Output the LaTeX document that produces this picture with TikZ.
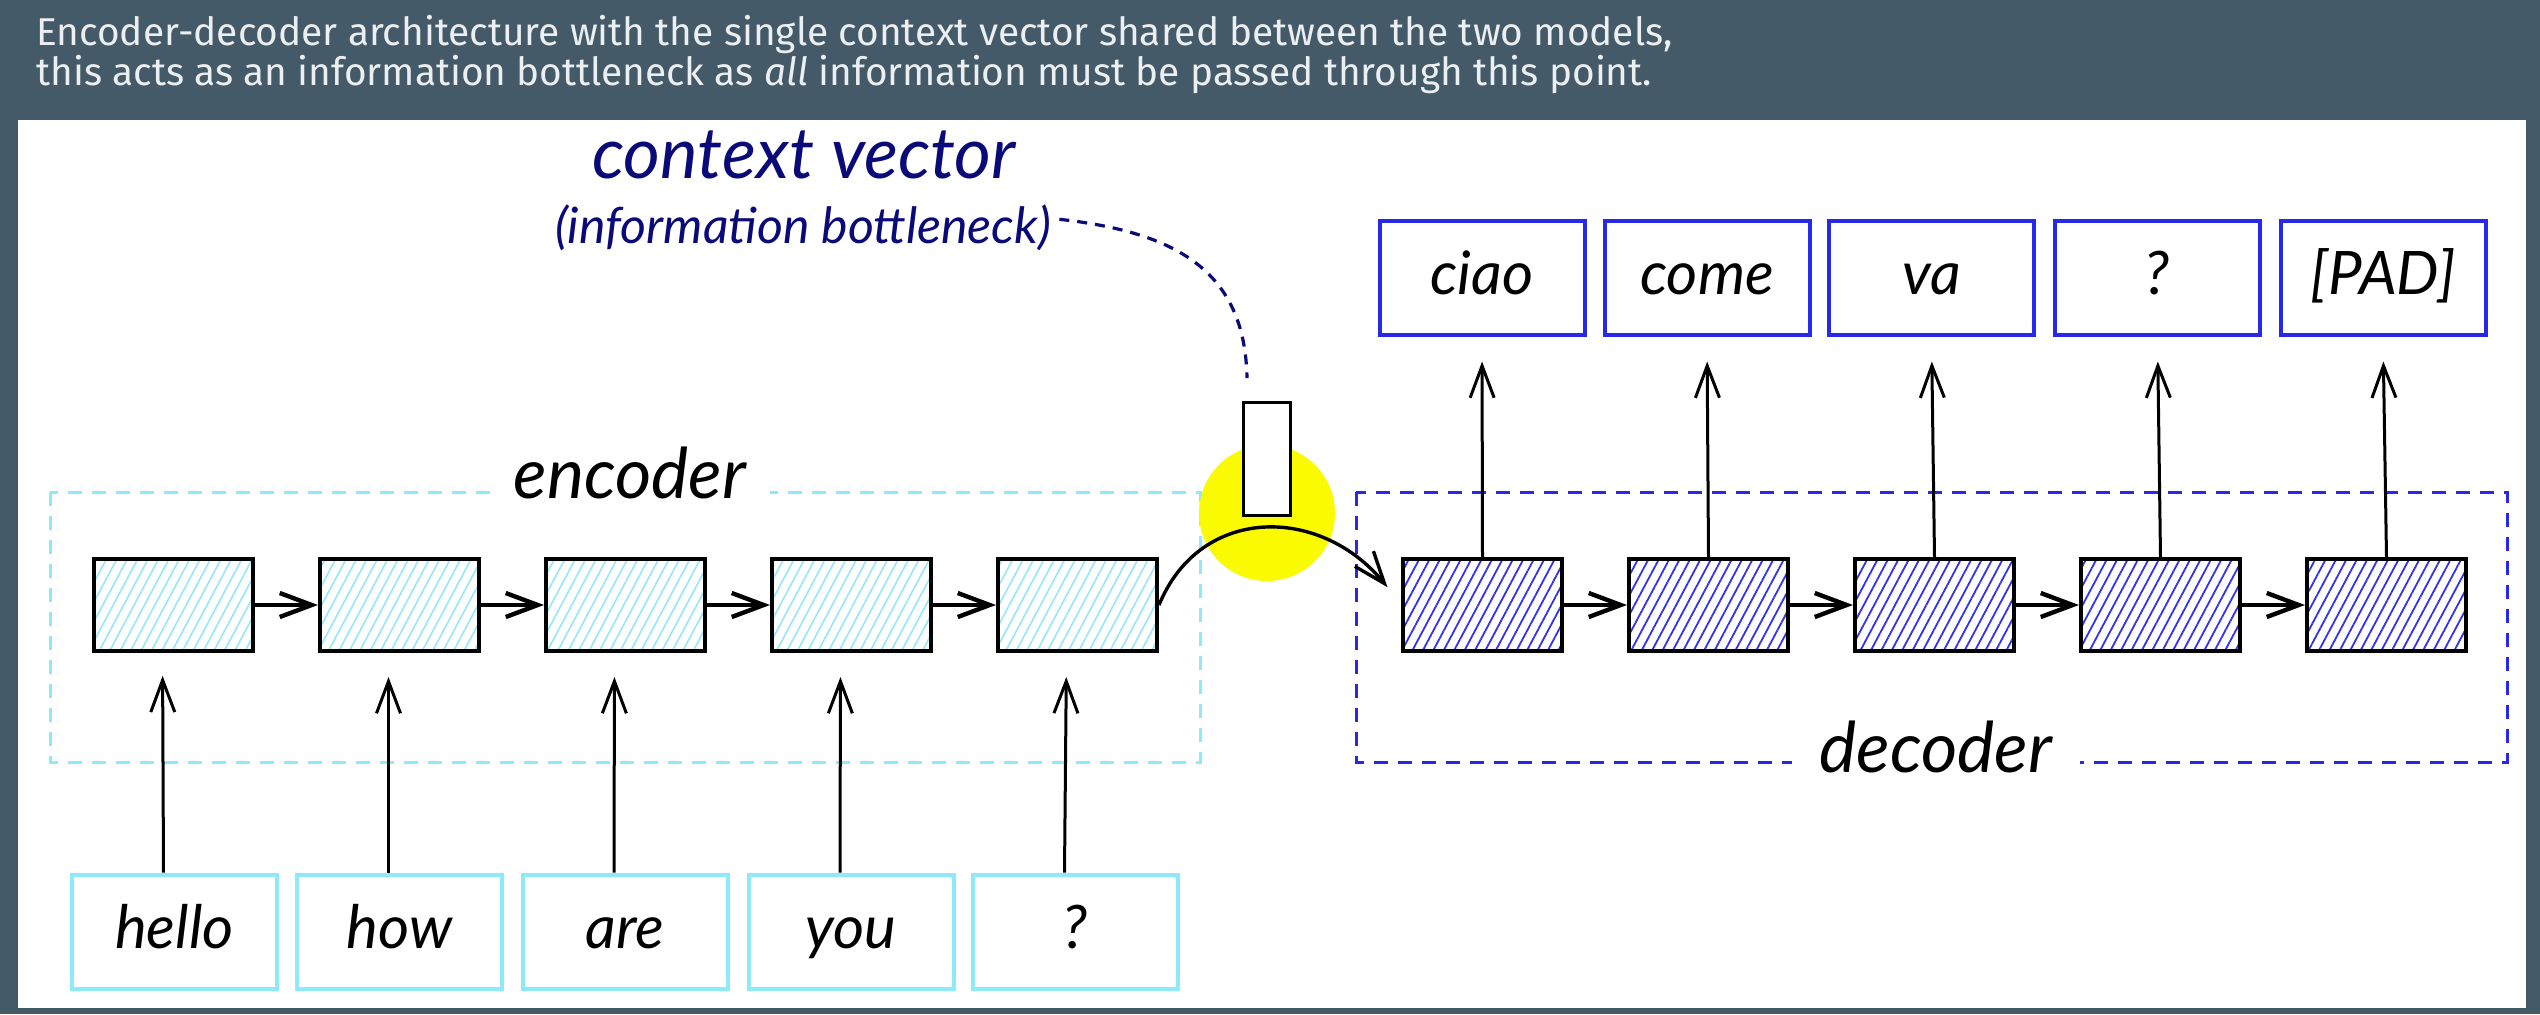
\documentclass[tikz,border=0pt]{standalone}
\usepackage{fontspec}
\setmainfont{Fira Sans}
\newfontfamily\handfont{Lato}
\usetikzlibrary{arrows.meta,patterns.meta,calc}
\definecolor{bgC}{RGB}{69,90,104}
\definecolor{headC}{RGB}{236,239,241}
\definecolor{cyanC}{RGB}{140,234,250}
\definecolor{cyanH}{RGB}{150,232,248}
\definecolor{blueC}{RGB}{40,40,235}
\definecolor{blueH}{RGB}{50,50,240}
\definecolor{navyC}{RGB}{10,10,120}
\definecolor{yellowC}{RGB}{250,250,0}
\begin{document}
\begin{tikzpicture}[x=0.5pt,y=-0.5pt,
  head/.style={text=headC, font=\fontsize{19.4}{23}\selectfont, inner sep=0pt},
  hand/.style={font=\handfont\itshape\fontsize{30}{35}\selectfont},
  grouplab/.style={font=\handfont\itshape\fontsize{35}{40}\selectfont, fill=white, inner ysep=0pt},
  encbox/.style={draw=black, line width=2pt, minimum width=79.5pt, minimum height=46pt, inner sep=0pt,
    pattern={Lines[angle=62,distance=4.6pt,line width=0.8pt]}, pattern color=cyanH},
  decbox/.style={draw=black, line width=2pt, minimum width=79.5pt, minimum height=46pt, inner sep=0pt,
    pattern={Lines[angle=62,distance=4.6pt,line width=0.9pt]}, pattern color=blueH},
  wordbox/.style={hand, fill=white, line width=2pt, minimum width=102.5pt, minimum height=57pt, inner sep=0pt,
    text height=20pt, text depth=3.5pt},
  inbox/.style={wordbox, draw=cyanC},
  outbox/.style={wordbox, draw=blueC},
  uparrow/.style={line width=1.5pt, -{Straight Barb[length=16pt,width=12pt]}},
  harrow/.style={line width=2.2pt, -{Straight Barb[length=16pt,width=12pt]}},
  encdash/.style={draw=cyanC, line width=1.5pt, dash pattern=on 7pt off 5pt},
  decdash/.style={draw=blueC, line width=1.5pt, dash pattern=on 7pt off 5pt},
  navydash/.style={draw=navyC, line width=1.6pt, dash pattern=on 5pt off 4pt},
  ctxbox/.style={draw=black, fill=white, line width=1.5pt, minimum width=23.5pt, minimum height=56.5pt, inner sep=0pt}
]
\path[use as bounding box, fill=bgC] (0,0) rectangle (2540,1014);
\fill[white] (18,120) rectangle (2526,1008);

\node[head, anchor=base west] (h1) at (36,45) {Encoder-decoder architecture with the single context vector shared between the two models,};
\node[head, anchor=base west] (h2) at (36,85) {this acts as an information bottleneck as \textit{all} information must be passed through this point.};

% groups
\draw[encdash] (50,492) rectangle (1200,762);
\draw[decdash] (1356,492) rectangle (2507,762);
\node[grouplab, inner xsep=12pt, anchor=base] (enclab) at (630,498) {encoder};
\node[grouplab, inner xsep=14pt, anchor=base] (declab) at (1936,772) {decoder};

% bottleneck
\node[circle, fill=yellowC, minimum size=68pt, inner sep=0pt] (bneck) at (1267,513) {};
\node[ctxbox] (ctx) at (1266.5,458.5) {};

% encoder / decoder cells
\foreach \i/\x in {1/173.5,2/399.5,3/625.5,4/851.5,5/1077.5}
  \node[encbox] (e\i) at (\x,605) {};
\foreach \i/\x in {1/1482.5,2/1708.5,3/1934.5,4/2160.5,5/2386.5}
  \node[decbox] (d\i) at (\x,605) {};

% input / output words
\foreach \i/\x/\w in {1/174.5/hello,2/399.5/how,3/625/are,4/851/you,5/1075.5/?}
  \node[inbox] (in\i) at (\x,931.5) {\w};
\foreach \i/\x/\w in {1/1482/ciao,2/1707/come,3/1931.5/va,4/2157.5/?,5/2383/[PAD]}
  \node[outbox] (o\i) at (\x,277.5) {\w};

% arrows
\foreach \i in {1,...,5} {
  \draw[uparrow, shorten >=12pt] ([xshift=-5.5pt]in\i.north) -- ([xshift=-5.5pt]e\i.south);
  \draw[uparrow, shorten >=12.5pt] (d\i.north) -- (o\i.south);
}
\foreach \a/\b in {1/2,2/3,3/4,4/5} {
  \draw[harrow] (e\a.east) -- (e\b.west);
  \draw[harrow] (d\a.east) -- (d\b.west);
}
\draw[line width=1.7pt, -{Straight Barb[length=16pt,width=12pt]}, shorten >=11.5pt]
  (e5.east) .. controls (1200,505) and (1320,505) .. (d1.west);

% context vector labels
\node[text=navyC, font=\handfont\itshape\fontsize{35.5}{40}\selectfont, anchor=base] (ctxlab) at (804,178) {context vector};
\node[text=navyC, font=\handfont\itshape\fontsize{25}{29}\selectfont, anchor=base, inner xsep=4pt] (bnlab) at (803,243) {(information bottleneck)};
\coordinate (ctxend) at (1247,378);
\draw[navydash] ([yshift=4pt]bnlab.east) .. controls (1175,232) and (1245,270) .. (ctxend);
\end{tikzpicture}
\end{document}
